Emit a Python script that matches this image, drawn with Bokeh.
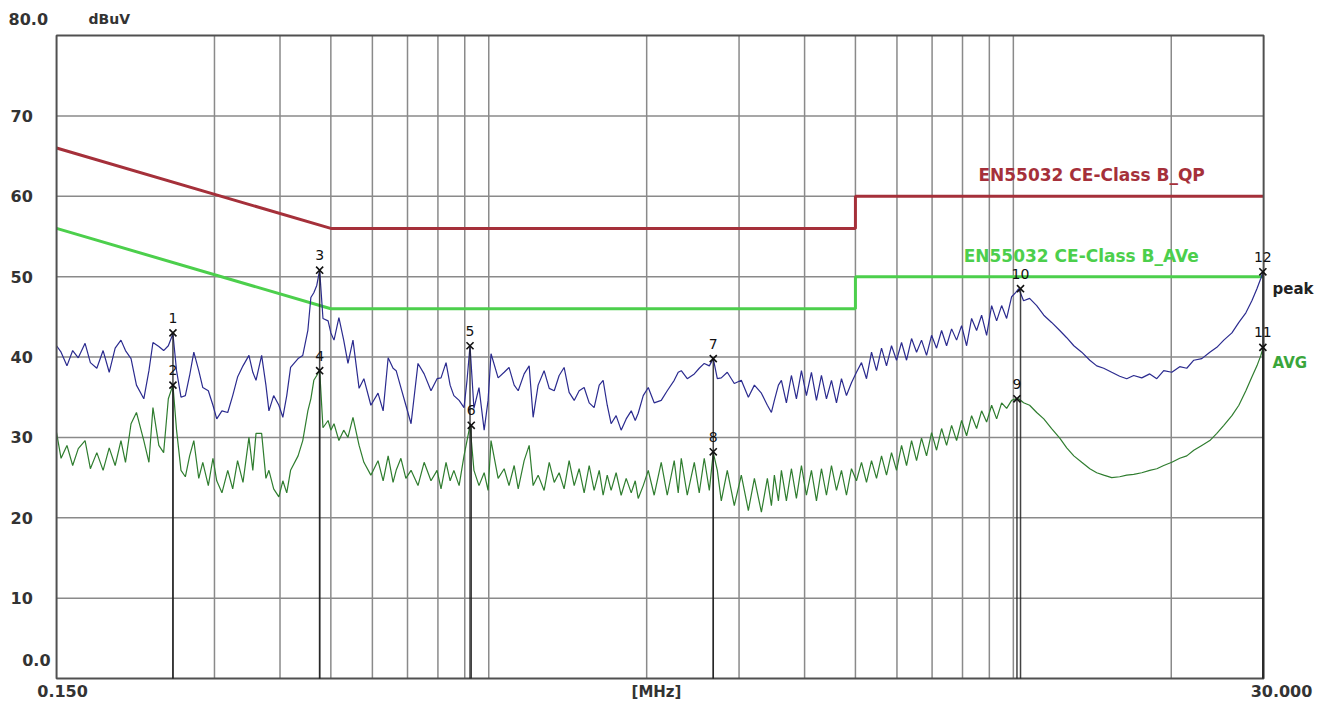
from bokeh.plotting import figure
from bokeh.models import Range1d, ColumnDataSource
from bokeh.core.properties import value
from bokeh.embed import file_html
from bokeh.resources import INLINE

# ---- measured sweep (MHz, dBuV) ----
freq = [0.150, 0.153, 0.157, 0.161, 0.165, 0.170, 0.174, 0.179, 0.184, 0.189, 0.194, 0.199, 0.203, 0.208,
        0.213, 0.220, 0.225, 0.229, 0.235, 0.240, 0.245, 0.250, 0.254, 0.259, 0.264, 0.269, 0.274, 0.280,
        0.285, 0.292, 0.298, 0.303, 0.310, 0.318, 0.325, 0.332, 0.340, 0.349, 0.355, 0.360, 0.369, 0.376,
        0.381, 0.389, 0.398, 0.405, 0.412, 0.419, 0.433, 0.442, 0.452, 0.458, 0.464, 0.470, 0.476, 0.483,
        0.494, 0.500, 0.507, 0.518, 0.529, 0.539, 0.551, 0.566, 0.578, 0.596, 0.615, 0.629, 0.643, 0.657,
        0.666, 0.680, 0.695, 0.711, 0.733, 0.753, 0.776, 0.797, 0.811, 0.829, 0.844, 0.858, 0.878, 0.897,
        0.909, 0.921, 0.937, 0.958, 0.980, 0.997, 1.010, 1.042, 1.070, 1.093, 1.118, 1.138, 1.168, 1.194,
        1.215, 1.242, 1.275, 1.304, 1.333, 1.362, 1.392, 1.423, 1.455, 1.487, 1.520, 1.554, 1.588, 1.624,
        1.652, 1.682, 1.711, 1.749, 1.788, 1.828, 1.869, 1.902, 1.927, 1.970, 2.014, 2.067, 2.132, 2.189,
        2.257, 2.297, 2.328, 2.390, 2.465, 2.519, 2.575, 2.633, 2.679, 2.727, 2.775, 2.849, 2.938, 3.030,
        3.125, 3.209, 3.309, 3.397, 3.458, 3.503, 3.566, 3.613, 3.693, 3.775, 3.859, 3.945, 4.032, 4.122,
        4.214, 4.307, 4.403, 4.501, 4.601, 4.703, 4.807, 4.914, 5.023, 5.135, 5.249, 5.366, 5.485, 5.607,
        5.731, 5.858, 5.989, 6.122, 6.258, 6.397, 6.539, 6.683, 6.832, 6.984, 7.139, 7.298, 7.460, 7.626,
        7.795, 7.968, 8.145, 8.326, 8.511, 8.700, 8.893, 9.091, 9.293, 9.499, 9.710, 9.926, 10.10, 10.24,
        10.46, 10.74, 11.08, 11.43, 11.83, 12.26, 12.64, 13.04, 13.50, 13.99, 14.42, 14.87, 15.40, 15.95,
        16.45, 16.96, 17.57, 18.20, 18.77, 19.35, 20.05, 20.76, 21.41, 22.08, 22.87, 23.69, 24.43, 25.19,
        26.10, 26.91, 27.75, 28.49, 29.13, 29.64, 30.00]

peak_level = [41.4, 40.6, 38.9, 40.8, 39.9, 41.7, 39.3, 38.6, 40.8, 38.1, 41.1, 42.1, 40.8, 39.8,
              36.5, 34.8, 38.3, 41.8, 41.3, 40.8, 41.4, 42.9, 38.3, 35.0, 35.2, 37.7, 40.6, 38.3,
              36.2, 35.8, 34.0, 32.3, 33.3, 33.1, 35.2, 37.5, 38.9, 40.2, 38.1, 37.1, 40.2, 36.5,
              33.3, 35.2, 34.0, 32.5, 35.2, 38.7, 39.8, 40.2, 43.3, 47.4, 48.0, 48.9, 50.8, 44.8,
              44.5, 43.0, 42.1, 44.9, 42.1, 39.2, 42.1, 36.1, 37.3, 34.0, 35.5, 33.3, 39.9, 38.6,
              38.3, 36.2, 34.0, 31.7, 39.2, 37.9, 35.8, 37.3, 37.4, 39.3, 36.5, 35.2, 34.6, 33.7,
              37.1, 41.4, 33.6, 36.2, 30.9, 34.6, 40.4, 37.4, 38.1, 38.7, 36.5, 35.8, 37.9, 38.9,
              32.5, 36.5, 38.3, 36.1, 35.8, 37.7, 38.7, 35.6, 34.6, 35.8, 36.2, 34.3, 33.7, 36.5,
              37.1, 34.0, 31.7, 32.7, 30.9, 32.3, 33.3, 32.1, 33.0, 35.2, 36.2, 34.3, 34.6, 35.8,
              37.1, 38.1, 38.3, 37.3, 37.9, 38.6, 39.2, 38.9, 39.8, 37.3, 37.4, 38.1, 36.7, 37.1,
              35.0, 36.5, 35.5, 34.0, 33.1, 34.6, 36.5, 37.1, 34.3, 37.7, 34.8, 38.3, 35.2, 38.1,
              34.6, 37.7, 34.8, 37.1, 34.3, 37.3, 35.2, 36.8, 38.1, 39.3, 37.3, 40.6, 38.3, 41.1,
              38.9, 41.4, 39.6, 41.8, 39.6, 42.3, 40.6, 42.1, 40.2, 42.7, 41.1, 43.3, 41.4, 43.5,
              42.1, 43.9, 41.4, 44.8, 43.3, 45.2, 42.7, 46.4, 44.5, 46.4, 44.8, 47.5, 48.0, 48.5,
              47.0, 47.3, 46.4, 45.2, 44.3, 43.3, 42.4, 41.4, 40.6, 39.6, 38.9, 38.6, 38.1, 37.6,
              37.3, 37.7, 37.4, 37.9, 37.3, 38.3, 38.1, 38.8, 38.6, 39.6, 39.8, 40.6, 41.2, 42.1,
              43.0, 44.3, 45.5, 47.0, 48.5, 49.8, 50.8]

avg_level = [30.6, 27.4, 29.0, 26.5, 28.6, 29.6, 26.1, 28.1, 25.9, 28.7, 26.5, 29.6, 26.9, 31.7,
             33.1, 29.6, 26.9, 33.7, 29.0, 28.1, 34.8, 36.5, 30.9, 25.9, 25.1, 27.7, 29.6, 24.9,
             26.9, 24.0, 27.4, 24.6, 23.1, 25.9, 23.6, 27.1, 24.4, 30.0, 25.9, 30.5, 30.5, 24.9,
             25.9, 23.6, 22.6, 24.6, 23.1, 25.9, 27.7, 29.6, 33.3, 34.8, 37.1, 37.7, 38.4, 31.2,
             32.1, 30.9, 31.7, 29.6, 30.9, 30.0, 32.5, 29.0, 26.9, 25.3, 27.1, 24.6, 27.7, 24.4,
             25.9, 27.4, 24.9, 25.9, 24.0, 26.9, 24.6, 25.9, 23.6, 26.9, 24.6, 25.9, 24.0, 27.7,
             29.6, 31.5, 25.9, 24.0, 25.6, 23.4, 29.6, 24.9, 26.1, 24.0, 26.5, 23.6, 27.1, 29.0,
             24.0, 25.3, 23.4, 26.9, 24.4, 25.6, 23.6, 27.1, 24.0, 26.1, 23.1, 26.5, 23.4, 25.9,
             22.8, 25.3, 23.4, 25.6, 22.8, 24.9, 23.1, 24.6, 22.4, 24.0, 25.9, 22.8, 26.9, 22.8,
             27.1, 23.1, 27.4, 22.8, 26.9, 23.1, 27.4, 23.4, 28.1, 25.9, 22.1, 25.9, 21.5, 25.3,
             20.9, 24.9, 20.7, 24.9, 21.5, 25.3, 22.1, 25.9, 22.1, 26.1, 22.4, 26.5, 22.8, 25.9,
             22.1, 26.1, 22.8, 26.5, 23.4, 25.9, 22.8, 26.1, 24.6, 26.9, 24.4, 27.1, 24.9, 27.7,
             25.3, 28.1, 25.9, 29.0, 26.5, 29.6, 27.1, 29.9, 27.7, 30.6, 28.4, 31.1, 29.0, 31.5,
             29.6, 32.1, 30.2, 32.7, 31.1, 33.3, 31.9, 34.0, 32.3, 34.3, 33.6, 34.6, 34.8, 34.8,
             34.3, 34.0, 33.1, 32.3, 31.1, 29.9, 28.7, 27.7, 26.9, 26.1, 25.6, 25.3, 25.0, 25.1,
             25.3, 25.4, 25.6, 25.9, 26.1, 26.5, 26.9, 27.4, 27.7, 28.4, 29.0, 29.6, 30.5, 31.5,
             32.7, 34.0, 35.8, 37.5, 38.9, 40.2, 41.4]

# ---- limit lines ----
qp_freq = [0.15, 0.5, 5.0, 5.0, 30.0]
qp_level = [66.0, 56.0, 56.0, 60.0, 60.0]
av_freq = [0.15, 0.5, 5.0, 5.0, 30.0]
av_level = [56.0, 46.0, 46.0, 50.0, 50.0]

# ---- markers ----
marker_no = ["1", "2", "3", "4", "5", "6", "7", "8", "9", "10", "11", "12"]
marker_freq = [0.250, 0.250, 0.476, 0.476, 0.921, 0.926, 2.679, 2.679, 10.16, 10.32, 29.90, 29.90]
marker_level = [43.0, 36.5, 50.8, 38.3, 41.4, 31.5, 39.8, 28.2, 34.8, 48.5, 41.2, 50.6]

# ---- axes extent, grid and tick labels ----
X_MIN, X_MAX = 0.15, 30.0
Y_MIN, Y_MAX = 0.0, 80.0
x_grid = [0.3, 0.4, 0.5, 0.6, 0.7, 0.8, 0.9, 1, 2, 3, 4, 5, 6, 7, 8, 9, 10, 20]
y_grid = [10, 20, 30, 40, 50, 60, 70]
y_tick_text = ["10", "20", "30", "40", "50", "60", "70"]

W, H = 1318, 700
# frame covers the canvas; ranges extended so that the 0.15-30 MHz / 0-80 dBuV box sits
# where the reference chart draws it, leaving room for the tick texts around it.
p = figure(width=W, height=H, x_axis_type="log",
           x_range=Range1d(0.11728, 38.17), y_range=Range1d(-2.737, 84.355),
           x_axis_location=None, y_axis_location=None,
           toolbar_location=None, output_backend="svg",
           min_border_left=0, min_border_right=0, min_border_top=0, min_border_bottom=0)
p.background_fill_color = "white"
p.border_fill_color = "white"
p.outline_line_color = None
p.xgrid.visible = False
p.ygrid.visible = False

GRID = "#8a8a8a"
p.segment(x0=x_grid, y0=Y_MIN, x1=x_grid, y1=Y_MAX, line_color=GRID, line_width=1.5)
p.segment(x0=X_MIN, y0=y_grid, x1=X_MAX, y1=y_grid, line_color=GRID, line_width=1.5)

# limits
p.line(qp_freq, qp_level, line_color="#a5303a", line_width=3)
p.line(av_freq, av_level, line_color="#4ccf4c", line_width=3)

# traces
p.line(freq, avg_level, line_color="#2f7d2f", line_width=1.2)
p.line(freq, peak_level, line_color="#2b2b8f", line_width=1.2)

# plot box
p.quad(left=X_MIN, right=X_MAX, bottom=Y_MIN, top=Y_MAX, fill_color=None,
       line_color="#505050", line_width=2)

# markers
msrc = ColumnDataSource(dict(f=marker_freq, lvl=marker_level, no=marker_no))
p.segment(x0="f", y0="lvl", x1="f", y1=Y_MIN, source=msrc, line_color="#222222",
          line_width=1.5, line_alpha=0.85)
p.scatter("f", "lvl", source=msrc, marker="x", size=10, line_color="#111111", line_width=1.6)
p.text(x="f", y="lvl", text="no", source=msrc, text_align="center", text_baseline="middle",
       y_offset=-15, text_font=value("DejaVu Sans"), text_font_size="14px", text_color="#111111")

FONT = value("DejaVu Sans")
def lab(x, y, t, size="16px", color="#333333", align="left"):
    p.text(x=[x], y=[y], text=[t], text_font=FONT, text_font_size=size, text_color=color,
           text_font_style="bold", text_align=align, text_baseline="middle")

# y tick texts
p.text(x=0.1226, y=y_grid, text=y_tick_text, text_font=FONT, text_font_size="16px",
       text_color="#333333", text_font_style="bold", text_align="left", text_baseline="middle")
lab(0.1215, 82.0, "80.0")
lab(0.1461, 2.36, "0.0", align="right")
lab(0.1726, 82.1, "dBuV", size="14px")
# x tick texts
lab(0.154, -1.5, "0.150", align="center")
lab(2.088, -1.7, "[MHz]", size="15px", align="center")
lab(32.45, -1.5, "30.000", align="center")

# limit / trace names
lab(8.58, 62.6, "EN55032 CE-Class B_QP", size="17px", color="#a5303a")
lab(8.04, 52.6, "EN55032 CE-Class B_AVe", size="17px", color="#4ccf4c")
lab(31.2, 48.5, "peak", size="15px", color="#222222")
lab(31.2, 39.3, "AVG", size="15px", color="#3aa63a")

open("out.html", "w").write(file_html(p, INLINE))
